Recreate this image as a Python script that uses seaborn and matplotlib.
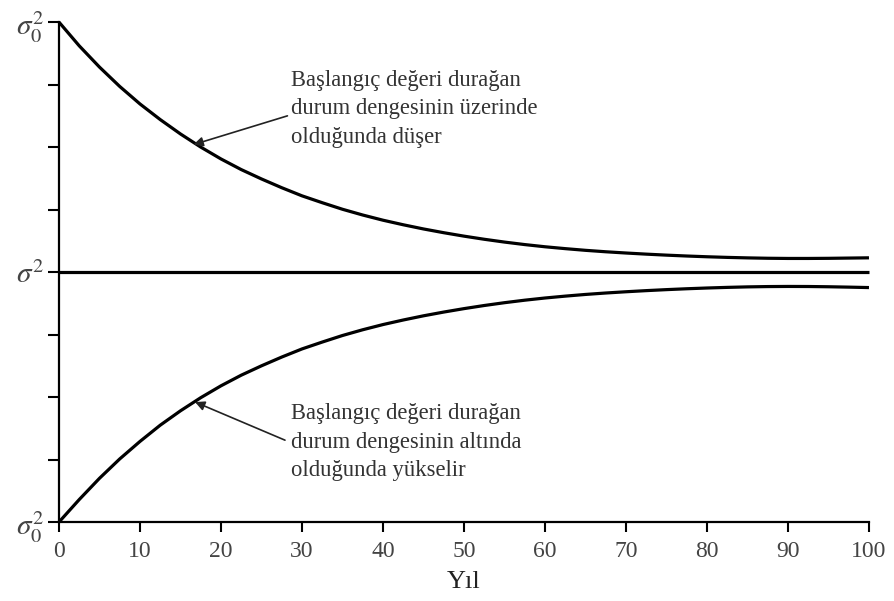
import numpy as np
import pandas as pd
import matplotlib
matplotlib.use("Agg")
import matplotlib.pyplot as plt
import seaborn as sns

# Data
years = [0, 2.5, 5, 7.5, 10, 12.5, 15, 17.5, 20, 22.5, 25, 27.5, 30, 32.5, 35, 37.5,
         40, 42.5, 45, 47.5, 50, 52.5, 55, 57.5, 60, 62.5, 65, 67.5, 70, 72.5, 75,
         77.5, 80, 82.5, 85, 87.5, 90, 92.5, 95, 97.5, 100]
upper = [4.00, 3.62, 3.28, 2.97, 2.69, 2.44, 2.21, 2.00, 1.81, 1.64, 1.49, 1.35, 1.22,
         1.11, 1.005, 0.913, 0.83, 0.757, 0.69, 0.63, 0.575, 0.525, 0.48, 0.44, 0.405,
         0.375, 0.348, 0.325, 0.305, 0.287, 0.271, 0.257, 0.245, 0.235, 0.227, 0.221,
         0.218, 0.218, 0.22, 0.224, 0.228]
lower = [-4.00, -3.64, -3.30, -2.99, -2.71, -2.45, -2.22, -2.01, -1.82, -1.65, -1.50,
         -1.36, -1.23, -1.12, -1.015, -0.923, -0.84, -0.767, -0.70, -0.64, -0.585,
         -0.535, -0.49, -0.45, -0.415, -0.385, -0.358, -0.335, -0.315, -0.297, -0.281,
         -0.267, -0.255, -0.245, -0.237, -0.232, -0.23, -0.231, -0.235, -0.241, -0.248]
equilibrium = [0.0] * len(years)

ytick_vals = [-4, -3, -2, -1, 0, 1, 2, 3, 4]
ytick_labels = [r"$\sigma_0^2$", "", "", "", r"$\sigma^2$", "", "", "", r"$\sigma_0^2$"]
xtick_vals = [0, 10, 20, 30, 40, 50, 60, 70, 80, 90, 100]
xlabel = "Yıl"
text_upper = "Başlangıç değeri durağan\ndurum dengesinin üzerinde\nolduğunda düşer"
text_lower = "Başlangıç değeri durağan\ndurum dengesinin altında\nolduğunda yükselir"

df = pd.DataFrame({
    "year": years * 3,
    "value": upper + equilibrium + lower,
    "series": ["upper"] * len(years) + ["eq"] * len(years) + ["lower"] * len(years),
})

sns.set_theme(style="ticks")
plt.rcParams["font.family"] = ["Liberation Serif", "DejaVu Serif"]
plt.rcParams["mathtext.fontset"] = "stix"

fig = plt.figure(figsize=(8.94, 6.01), dpi=100)
ax = fig.add_axes([0.066, 0.1314, 0.906, 0.8318])

sns.lineplot(data=df, x="year", y="value", hue="series",
             palette={"upper": "black", "eq": "black", "lower": "black"},
             linewidth=2.3, legend=False, ax=ax)
for line in ax.lines:
    line.set_clip_on(False)
    line.set_solid_capstyle("butt")
    line.set_solid_joinstyle("round")

ax.set_xlim(0, 100)
ax.set_ylim(-4, 4)
ax.set_xticks(xtick_vals)
ax.set_xticklabels([str(v) for v in xtick_vals], fontsize=17, color="#444444")
ax.set_yticks(ytick_vals)
ax.set_yticklabels(ytick_labels, fontsize=21, color="#444444")
ax.set_xlabel(xlabel, fontsize=19, color="#222222", labelpad=6)
ax.set_ylabel("")

sns.despine(ax=ax)
for s in ["left", "bottom"]:
    ax.spines[s].set_linewidth(1.6)
    ax.spines[s].set_color("black")
ax.tick_params(axis="y", direction="out", length=8, width=1.5, color="black", pad=3)
ax.tick_params(axis="x", direction="out", length=7, width=1.5, color="black", pad=7)

arrow = dict(arrowstyle="-|>", color="#222222", lw=1.2, mutation_scale=14,
             shrinkA=0, shrinkB=0)
ax.annotate("", xy=(16.6, 2.04), xytext=(28.2, 2.5), arrowprops=arrow)
ax.annotate("", xy=(16.8, -2.08), xytext=(27.9, -2.69), arrowprops=arrow)

ax.text(28.6, 2.61, text_upper, ha="left", va="center", fontsize=16.3,
        color="#333333", linespacing=1.45)
ax.text(28.6, -2.72, text_lower, ha="left", va="center", fontsize=16.3,
        color="#333333", linespacing=1.45)

fig.savefig("out.png", dpi=100)
